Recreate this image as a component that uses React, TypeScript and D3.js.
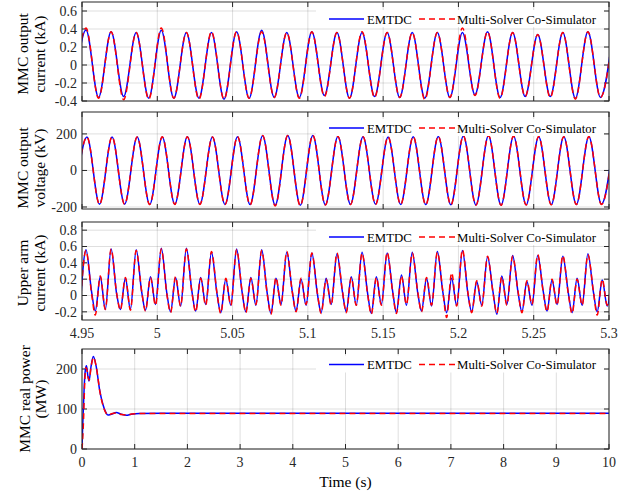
import React from 'react';
import * as d3 from 'd3';

// ---------------- data ----------------
const zoomTicks = [4.95, 5, 5.05, 5.1, 5.15, 5.2, 5.25, 5.3];
const zoomTickLabels = ['4.95', '5', '5.05', '5.1', '5.15', '5.2', '5.25', '5.3'];

// Panel 1: MMC output current (kA), alternating extremes (trough before window, P1, T1, ... P21, T21, next peak)
const currentFirstPeak = 4.95266;
const currentHalfPeriod = 1 / 120;
const currentEmtdc = [-0.36,
  0.39, -0.36, 0.37, -0.35, 0.36, -0.37, 0.385, -0.37, 0.36, -0.37,
  0.36, -0.38, 0.37, -0.37, 0.385, -0.36, 0.36, -0.36, 0.37, -0.34,
  0.36, -0.37, 0.36, -0.35, 0.36, -0.36, 0.36, -0.37, 0.36, -0.36,
  0.36, -0.33, 0.37, -0.36, 0.36, -0.35, 0.34, -0.35, 0.36, -0.37,
  0.37, -0.36, 0.37];
const currentCosim = [-0.37,
  0.41, -0.37, 0.37, -0.385, 0.36, -0.38, 0.41, -0.37, 0.36, -0.38,
  0.37, -0.38, 0.37, -0.37, 0.37, -0.36, 0.36, -0.37, 0.37, -0.35,
  0.36, -0.37, 0.37, -0.36, 0.36, -0.36, 0.36, -0.385, 0.36, -0.36,
  0.41, -0.34, 0.37, -0.37, 0.36, -0.35, 0.34, -0.36, 0.36, -0.38,
  0.37, -0.36, 0.37];

// Panel 2: MMC output voltage (kV), alternating extremes
const voltageFirstPeak = 4.9533;
const voltageHalfPeriod = 1 / 120;
const voltageEmtdc = [-183,
  183, -185, 183, -185, 183, -186, 183, -185, 184, -185,
  183, -186, 184, -187, 190, -190, 191, -191, 192, -188,
  186, -186, 184, -185, 183, -186, 185, -187, 186, -188,
  188, -189, 190, -190, 187, -188, 185, -187, 184, -186,
  185, -185, 184];
const voltageCosim = [-184,
  183, -186, 184, -185, 183, -187, 184, -186, 184, -186,
  183, -187, 185, -188, 192, -195, 192, -193, 193, -189,
  186, -187, 185, -186, 184, -187, 186, -188, 187, -189,
  189, -190, 191, -191, 188, -189, 186, -188, 185, -187,
  186, -186, 185];

// Panel 3: upper arm current (kA), per cycle: [main peak, shoulder, trough, small peak, trough]
const armFirstPeak = 4.95266;
const armPeriod = 1 / 60;
const armPhases = [0, 0.22, 0.37, 0.57, 0.77];
const armStart = -0.13;
const armEnd = 0.52;
const armEmtdc = [
  [0.56, 0.05, -0.19, 0.23, -0.17],
  [0.57, 0.02, -0.17, 0.21, -0.17],
  [0.56, 0.04, -0.18, 0.23, -0.11],
  [0.58, 0.03, -0.20, 0.22, -0.13],
  [0.58, 0.05, -0.19, 0.22, -0.11],
  [0.53, 0.02, -0.21, 0.20, -0.12],
  [0.57, 0.04, -0.20, 0.22, -0.12],
  [0.56, 0.03, -0.22, 0.21, -0.11],
  [0.53, 0.05, -0.19, 0.20, -0.12],
  [0.52, 0.02, -0.21, 0.21, -0.11],
  [0.51, 0.04, -0.20, 0.23, -0.12],
  [0.53, 0.03, -0.22, 0.23, -0.11],
  [0.52, 0.05, -0.21, 0.25, -0.12],
  [0.53, 0.03, -0.19, 0.21, -0.13],
  [0.54, 0.04, -0.21, 0.21, -0.12],
  [0.55, 0.02, -0.20, 0.17, -0.12],
  [0.47, 0.04, -0.23, 0.24, -0.11],
  [0.49, 0.03, -0.20, 0.17, -0.12],
  [0.49, 0.05, -0.19, 0.19, -0.11],
  [0.48, 0.03, -0.21, 0.21, -0.12],
  [0.51, 0.04, -0.20, 0.19, -0.13],
];
const armCosim = [
  [0.55, 0.03, -0.24, 0.24, -0.17],
  [0.57, 0.03, -0.18, 0.22, -0.18],
  [0.55, 0.05, -0.19, 0.22, -0.12],
  [0.57, 0.02, -0.21, 0.23, -0.13],
  [0.57, 0.04, -0.20, 0.21, -0.12],
  [0.54, 0.03, -0.22, 0.21, -0.12],
  [0.56, 0.05, -0.21, 0.21, -0.11],
  [0.55, 0.02, -0.23, 0.22, -0.12],
  [0.54, 0.04, -0.20, 0.21, -0.11],
  [0.52, 0.03, -0.22, 0.20, -0.12],
  [0.52, 0.05, -0.21, 0.22, -0.12],
  [0.52, 0.02, -0.23, 0.22, -0.12],
  [0.53, 0.04, -0.22, 0.24, -0.11],
  [0.52, 0.04, -0.20, 0.22, -0.12],
  [0.53, 0.05, -0.27, 0.28, -0.13],
  [0.56, 0.03, -0.21, 0.18, -0.13],
  [0.48, 0.03, -0.22, 0.23, -0.12],
  [0.48, 0.04, -0.21, 0.18, -0.11],
  [0.50, 0.04, -0.20, 0.20, -0.12],
  [0.49, 0.02, -0.22, 0.20, -0.12],
  [0.50, 0.05, -0.24, 0.20, -0.12],
];

// Panel 4: MMC real power (MW) over the full run
const powerTimeEmtdc = [0, 0.01, 0.02, 0.04, 0.063, 0.085, 0.11, 0.133, 0.17, 0.215, 0.27, 0.335, 0.4, 0.45, 0.49, 0.557, 0.65, 0.746, 0.84, 0.935, 1.09, 1.5, 2, 3, 4, 5, 6, 7, 8, 9, 10];
const powerEmtdc = [0, 45, 81, 150, 197, 208, 184, 170, 205, 231, 206, 147, 110, 92, 85, 87, 91, 87, 84.5, 87, 89, 89.5, 89.5, 89.5, 89.5, 89.5, 89.5, 89.5, 89.5, 89.5, 89.5];
const powerTimeCosim = [0, 0.015, 0.03, 0.05, 0.07, 0.09, 0.115, 0.135, 0.175, 0.22, 0.275, 0.34, 0.4, 0.455, 0.5, 0.56, 0.65, 0.75, 0.84, 0.94, 1.1, 1.5, 2, 3, 4, 5, 6, 7, 8, 9, 10];
const powerCosim = [0, 30, 75, 160, 203, 200, 180, 172, 208, 229, 202, 143, 108, 90, 85, 88, 90, 86, 85, 87.5, 88.5, 88.5, 88.5, 88.5, 88.5, 88.5, 88.5, 88.5, 88.5, 88.5, 88.5];
const powerTicksX = [0, 1, 2, 3, 4, 5, 6, 7, 8, 9, 10];
const powerTicksY = [0, 100, 200];

const legendLabels = ['EMTDC', 'Multi-Solver Co-Simulator'];

// ---------------- helpers ----------------
type Pt = [number, number];
const extremesToPts = (vals: number[], firstPeak: number, half: number): Pt[] =>
  vals.map((v, i) => [firstPeak + (i - 1) * half, v]);
const armToPts = (rows: number[][]): Pt[] => {
  const pts: Pt[] = [[armFirstPeak - 0.23 * armPeriod, armStart]];
  rows.forEach((row, k) => row.forEach((v, j) => pts.push([armFirstPeak + (k + armPhases[j]) * armPeriod, v])));
  pts.push([armFirstPeak + rows.length * armPeriod, armEnd]);
  return pts;
};
const zipPts = (t: number[], v: number[]): Pt[] => t.map((tt, i) => [tt, v[i]]);

const FONT = '"Liberation Serif", "Times New Roman", serif';
const L = 82, R = 609;
const AX = '#262626';
const BLUE = '#0000ff', RED = '#ff0000';

interface PanelProps {
  id: string;
  top: number; bottom: number;
  xDomain: [number, number]; yDomain: [number, number];
  xTicks: number[]; xLabels?: string[];
  yTicks: number[]; yLabels: string[];
  blue: Pt[]; red: Pt[];
  ylabel: [string, string]; ylabelY: number; ylabelX: [number, number];
  legendY: number;
  curve: d3.CurveFactory;
}

function Panel(p: PanelProps) {
  const x = d3.scaleLinear().domain(p.xDomain).range([L, R]);
  const y = d3.scaleLinear().domain(p.yDomain).range([p.bottom, p.top]);
  const line = d3.line<Pt>().x(d => x(d[0])).y(d => y(d[1])).curve(p.curve);
  const tl = 5;
  return (
    <g>
      <defs>
        <clipPath id={p.id}>
          <rect x={L} y={p.top} width={R - L} height={p.bottom - p.top} />
        </clipPath>
      </defs>
      <rect x={L} y={p.top} width={R - L} height={p.bottom - p.top} fill="#fff" />
      {/* grid */}
      {p.xTicks.map((t, i) => (
        <line key={'gx' + i} x1={x(t)} x2={x(t)} y1={p.top} y2={p.bottom} stroke={AX} strokeOpacity={0.15} strokeWidth={1} />
      ))}
      {p.yTicks.map((t, i) => (
        <line key={'gy' + i} x1={L} x2={R} y1={y(t)} y2={y(t)} stroke={AX} strokeOpacity={0.15} strokeWidth={1} />
      ))}
      {/* ticks */}
      {p.xTicks.map((t, i) => (
        <g key={'tx' + i}>
          <line x1={x(t)} x2={x(t)} y1={p.bottom} y2={p.bottom - tl} stroke={AX} />
          <line x1={x(t)} x2={x(t)} y1={p.top} y2={p.top + tl} stroke={AX} />
        </g>
      ))}
      {p.yTicks.map((t, i) => (
        <g key={'ty' + i}>
          <line x1={L} x2={L + tl} y1={y(t)} y2={y(t)} stroke={AX} />
          <line x1={R} x2={R - tl} y1={y(t)} y2={y(t)} stroke={AX} />
        </g>
      ))}
      {/* data */}
      <g clipPath={`url(#${p.id})`}>
        <path d={line(p.blue) || ''} fill="none" stroke={BLUE} strokeWidth={1.5} strokeLinejoin="round" />
        <path d={line(p.red) || ''} fill="none" stroke={RED} strokeWidth={1.5} strokeDasharray="6 4" strokeLinejoin="round" />
      </g>
      {/* legend */}
      <rect x={316} y={p.legendY - 9} width={288} height={17} fill="#fff" />
      <line x1={329} x2={364} y1={p.legendY} y2={p.legendY} stroke={BLUE} strokeWidth={1.5} />
      <text x={367} y={p.legendY + 4.5} fontFamily={FONT} fontSize={12.8} fill="#000">{legendLabels[0]}</text>
      <line x1={419} x2={455} y1={p.legendY} y2={p.legendY} stroke={RED} strokeWidth={1.5} strokeDasharray="6 4" />
      <text x={457} y={p.legendY + 4.5} fontFamily={FONT} fontSize={12.8} fill="#000">{legendLabels[1]}</text>
      {/* box */}
      <rect x={L} y={p.top} width={R - L} height={p.bottom - p.top} fill="none" stroke={AX} strokeWidth={1} />
      {/* tick labels */}
      {p.yTicks.map((t, i) => (
        <text key={'yl' + i} x={L - 5} y={y(t)} dy="0.35em" textAnchor="end" fontFamily={FONT} fontSize={14} fill={AX}>{p.yLabels[i]}</text>
      ))}
      {p.xLabels && p.xTicks.map((t, i) => (
        <text key={'xl' + i} x={x(t)} y={p.bottom + 17.5} textAnchor="middle" fontFamily={FONT} fontSize={14} fill={AX}>{p.xLabels![i]}</text>
      ))}
      {/* y label */}
      <text transform={`translate(${p.ylabelX[0]},${p.ylabelY}) rotate(-90)`} textAnchor="middle" fontFamily={FONT} fontSize={15.5} fill="#000">{p.ylabel[0]}</text>
      <text transform={`translate(${p.ylabelX[1]},${p.ylabelY}) rotate(-90)`} textAnchor="middle" fontFamily={FONT} fontSize={15.5} fill="#000">{p.ylabel[1]}</text>
    </g>
  );
}

export default function App() {
  return (
    <svg width={629} height={494} style={{ position: 'absolute', left: 0, top: 0, background: '#fff' }}>
      <rect x={0} y={0} width={629} height={494} fill="#fff" />
      <Panel id="c1" top={2} bottom={101} xDomain={[4.95, 5.3]} yDomain={[-0.4, 0.7]}
        xTicks={zoomTicks} yTicks={[-0.4, -0.2, 0, 0.2, 0.4, 0.6]} yLabels={['-0.4', '-0.2', '0', '0.2', '0.4', '0.6']}
        blue={extremesToPts(currentEmtdc, currentFirstPeak, currentHalfPeriod)}
        red={extremesToPts(currentCosim, currentFirstPeak, currentHalfPeriod)}
        ylabel={['MMC output', 'current (kA)']} ylabelY={54} ylabelX={[28, 44.5]} legendY={19}
        curve={d3.curveMonotoneX} />
      <Panel id="c2" top={112} bottom={209} xDomain={[4.95, 5.3]} yDomain={[-211, 320]}
        xTicks={zoomTicks} yTicks={[-200, 0, 200]} yLabels={['-200', '0', '200']}
        blue={extremesToPts(voltageEmtdc, voltageFirstPeak, voltageHalfPeriod)}
        red={extremesToPts(voltageCosim, voltageFirstPeak, voltageHalfPeriod)}
        ylabel={['MMC output', 'voltage (kV)']} ylabelY={168} ylabelX={[28, 44.5]} legendY={128}
        curve={d3.curveMonotoneX} />
      <Panel id="c3" top={222} bottom={320} xDomain={[4.95, 5.3]} yDomain={[-0.3, 0.9]}
        xTicks={zoomTicks} xLabels={zoomTickLabels}
        yTicks={[-0.2, 0, 0.2, 0.4, 0.6, 0.8]} yLabels={['-0.2', '0', '0.2', '0.4', '0.6', '0.8']}
        blue={armToPts(armEmtdc)} red={armToPts(armCosim)}
        ylabel={['Upper arm', 'current (kA)']} ylabelY={273} ylabelX={[28, 44.5]} legendY={237}
        curve={d3.curveMonotoneX} />
      <Panel id="c4" top={349} bottom={449} xDomain={[0, 10]} yDomain={[0, 250]}
        xTicks={powerTicksX} xLabels={powerTicksX.map(String)}
        yTicks={powerTicksY} yLabels={powerTicksY.map(String)}
        blue={zipPts(powerTimeEmtdc, powerEmtdc)} red={zipPts(powerTimeCosim, powerCosim)}
        ylabel={['MMC real power', '(MW)']} ylabelY={399} ylabelX={[29.5, 46]} legendY={364.5}
        curve={d3.curveMonotoneX} />
      <text x={345.5} y={487} textAnchor="middle" fontFamily={FONT} fontSize={15.5} fill="#000">Time (s)</text>
    </svg>
  );
}
